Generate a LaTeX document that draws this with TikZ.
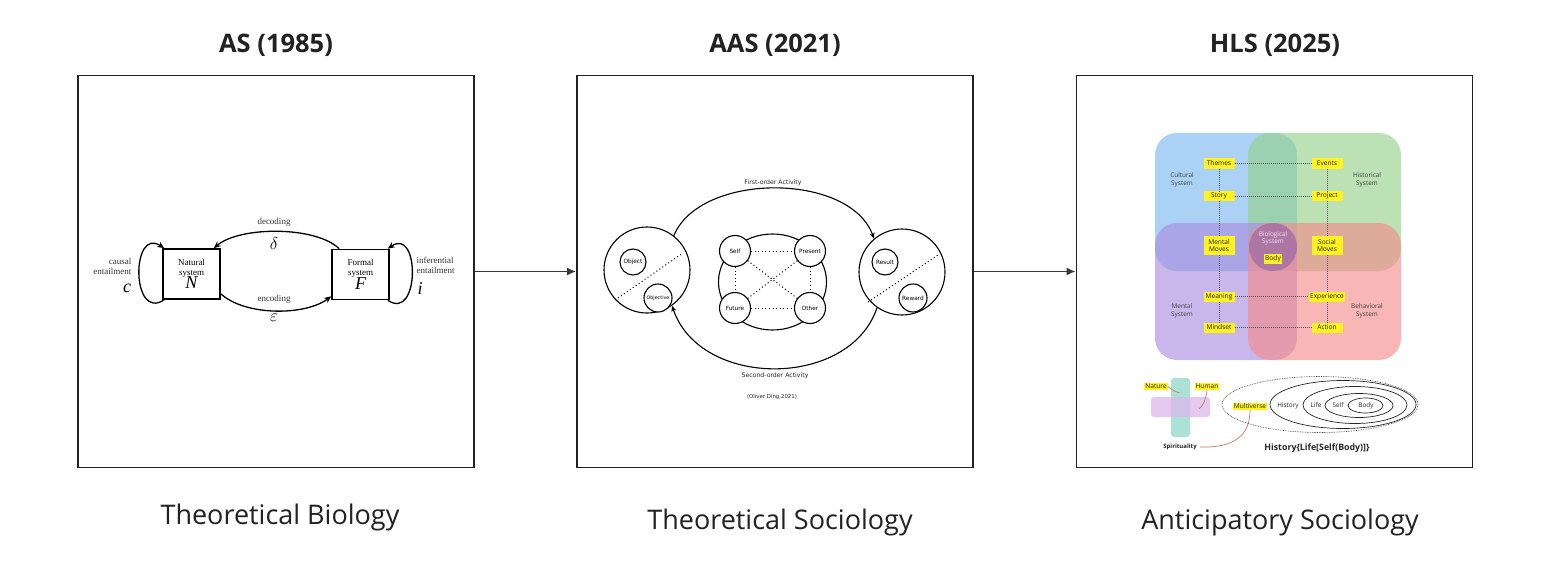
\documentclass[tikz,border=0pt]{standalone}
\usepackage{fontspec}
\setmainfont{Open Sans}
\newfontfamily\serifA{Liberation Serif}
\newfontfamily\sansB{DejaVu Sans}
\newfontfamily\sansC{Open Sans}
\usetikzlibrary{arrows.meta,shapes.geometric,calc}
\definecolor{ink}{HTML}{222222}
\definecolor{hl}{HTML}{FFF21E}
\definecolor{cCult}{HTML}{78B6F0}
\definecolor{cHist}{HTML}{92D088}
\definecolor{cMent}{HTML}{A98BE0}
\definecolor{cBeh}{HTML}{F58A8A}
\definecolor{cBio}{HTML}{8E5FA8}
\definecolor{cTeal}{HTML}{9EDDCF}
\definecolor{cPur}{HTML}{DDB8EC}
\definecolor{cBrown}{HTML}{C9785E}
\tikzset{
  panel/.style={draw=ink, line width=1.8pt, minimum width=396pt, minimum height=392pt, inner sep=0pt},
  title/.style={font=\bfseries\fontsize{25.5}{28}\selectfont, text=ink},
  caption/.style={font=\fontsize{27}{30}\selectfont, text=ink},
  conn/.style={draw=ink!90, line width=1.7pt, -{Latex[length=9pt,width=8pt]}},
  sbox/.style={draw=black, line width=1.6pt, minimum width=57pt, minimum height=50pt, inner sep=0pt, align=center, font=\serifA\fontsize{9}{9.8}\selectfont},
  serlab/.style={font=\serifA\fontsize{9}{10}\selectfont, text=black!80, align=left},
  sarc/.style={draw=black, line width=1.3pt, -{Stealth[length=7pt,width=6pt]}},
  bigc/.style={circle, draw=black, line width=1.1pt, minimum size=86pt, inner sep=0pt},
  smc/.style={circle, draw=black, line width=1.1pt, inner sep=0pt, font=\sansB\fontsize{5.8}{6.5}\selectfont, fill=white},
  dline/.style={draw=black, line width=1pt, dash pattern=on 1pt off 2.6pt},
  tlab/.style={font=\sansB\fontsize{6.2}{7}\selectfont, text=black!85},
  act/.style={draw=black, line width=1.1pt, -{Stealth[length=6pt,width=5pt]}},
  ylab/.style={fill=hl, inner sep=1.3pt, minimum width=31pt, minimum height=10pt, align=center, font=\sansC\fontsize{6.6}{7.4}\selectfont, text=black!85},
  glab/.style={font=\sansC\fontsize{6.4}{7.6}\selectfont, text=black!75, align=center},
  gdot/.style={draw=black!65, line width=0.5pt, dash pattern=on 1pt off 1pt},
  quad/.style={fill opacity=0.62, rounded corners=22pt},
  brline/.style={draw=cBrown, line width=0.7pt},
}
\begin{document}
\begin{tikzpicture}[x=1pt,y=-1pt]
\useasboundingbox (0,0) rectangle (1550,567);
\fill[white] (0,0) rectangle (1550,567);

% panels
\node[panel] (p1) at (276,271.5) {};
\node[panel] (p2) at (775,271.5) {};
\node[panel] (p3) at (1274.5,271.5) {};
\draw[conn] (p1.east) -- (p2.west);
\draw[conn] (p2.east) -- (p3.west);

% titles
\node[title] (t1) at (276,45) {AS (1985)};
\node[title] (t2) at (775,45) {AAS (2021)};
\node[title] (t3) at (1275,45) {HLS (2025)};
% captions
\node[caption] (c1) at (280,517) {Theoretical Biology};
\node[caption] (c2) at (780,522) {Theoretical Sociology};
\node[caption] (c3) at (1280,522) {Anticipatory Sociology};

% ---------- panel 1 ----------
\node[sbox] (N) at (191.5,274) {Natural\\system\\[-1pt]{\fontsize{18}{18}\selectfont\itshape N}};
\node[sbox] (F) at (360.5,274.5) {Formal\\system\\[-1pt]{\fontsize{18}{18}\selectfont\itshape F}};
\draw[sarc] ([xshift=8pt]F.north west) .. controls (316,226) and (240,226) .. ([xshift=-7pt]N.north east);
\draw[sarc] ([yshift=6pt]N.south east) .. controls (245,316) and (305,316) .. ([yshift=4pt]F.south west);
\draw[sarc] ([xshift=2pt]N.south west) .. controls (131,322) and (131,226) .. ([xshift=2pt]N.north west);
\draw[sarc] ([xshift=-2pt]F.south east) .. controls (420,322) and (420,226) .. ([xshift=-2pt]F.north east);
\node[serlab] (dec) at (274,222) {decoding};
\node (delta) at (274,243) {\fontsize{18}{18}\selectfont$\delta$};
\node[serlab] (enc) at (274,299) {encoding};
\node (eps) at (274,318) {\fontsize{18}{18}\selectfont$\varepsilon$};
\node[serlab, anchor=east, align=right] (caus) at (135,266.5) {causal\\entailment};
\node (cc) at (127,288) {\fontsize{18}{18}\selectfont\serifA\itshape c};
\node[serlab, anchor=west] (infer) at (413,265.5) {inferential\\entailment};
\node (ii) at (420,289) {\fontsize{18}{18}\selectfont\serifA\itshape i};

% ---------- panel 2 ----------
\node[bigc] (L) at (647,270) {};
\node[bigc] (R) at (902,272) {};
\node[draw=black, line width=1.1pt, ellipse, minimum width=108pt, minimum height=96pt, inner sep=0pt] (Cen) at (772.5,282) {};
\coordinate (l1) at (615,300); \coordinate (l2) at (683,253);
\coordinate (r1) at (868,302); \coordinate (r2) at (938,255);
\draw[dline] (l1) -- (l2);
\draw[dline] (r1) -- (r2);
\node[smc, minimum size=26pt] (Obj) at (633,262) {Object};
\node[smc, minimum size=28pt, font=\sansB\fontsize{4.8}{5}\selectfont] (Objv) at (658,298) {Objective};
\node[smc, minimum size=26pt] (Res) at (885,262) {Result};
\node[smc, minimum size=28pt] (Rew) at (913,298) {Reward};
\node[smc, minimum size=31pt] (Self) at (735,251) {Self};
\node[smc, minimum size=31pt] (Pres) at (810,251) {Present};
\node[smc, minimum size=31pt] (Fut) at (735,308) {Future};
\node[smc, minimum size=31pt] (Oth) at (810,308) {Other};
\draw[dline] (Self) -- (Pres);
\draw[dline] (Fut) -- (Oth);
\draw[dline] (Self) -- (Fut);
\draw[dline] (Pres) -- (Oth);
\draw[dline] (Self) -- (Oth);
\draw[dline] (Pres) -- (Fut);
\draw[act] (L.52) .. controls (700,172) and (850,172) .. (R.130);
\draw[act] (R.235) .. controls (850,389) and (700,389) .. (L.-55);
\node[tlab] (fo) at (773,183) {First-order Activity};
\node[tlab] (so) at (775,376) {Second-order Activity};
\node[tlab, font=\sansB\fontsize{5.4}{6}\selectfont] (od) at (772,397) {(Oliver Ding,2021)};

% ---------- panel 3 ----------
\fill[cCult, quad] (1155,133) rectangle (1297,271);
\fill[cHist, quad] (1248,133) rectangle (1401,271);
\fill[cMent, quad] (1155,223) rectangle (1297,360);
\fill[cBeh, quad] (1248,223) rectangle (1401,360);
\node[circle, fill=cBio, fill opacity=0.55, minimum size=48pt, inner sep=0pt] (Bio) at (1273,247) {};
\node[glab, text=white!88!violet] (biot) at (1273,238.5) {Biological\\System};
\node[ylab, minimum width=18pt] (Body) at (1273,258.5) {Body};

\node[ylab] (Them) at (1219,163.5) {Themes};
\node[ylab] (Evt) at (1327,163.5) {Events};
\node[ylab] (Story) at (1219,196) {Story};
\node[ylab] (Proj) at (1327,196) {Project};
\node[ylab, minimum height=19pt] (MM) at (1219,245.5) {Mental\\Moves};
\node[ylab, minimum height=19pt] (SM) at (1327,245.5) {Social\\Moves};
\node[ylab] (Mean) at (1219,296.5) {Meaning};
\node[ylab] (Exp) at (1327,296.5) {Experience};
\node[ylab] (Mind) at (1219,327.5) {Mindset};
\node[ylab] (Act) at (1327,327.5) {Action};
\draw[gdot] (Them) -- (Evt);
\draw[gdot] (Story) -- (Proj);
\draw[gdot] (Mean) -- (Exp);
\draw[gdot] (Mind) -- (Act);
\draw[gdot] (Them) -- (Story);
\draw[gdot] (Story) -- (MM);
\draw[gdot] (MM) -- (Mean);
\draw[gdot] (Mean) -- (Mind);
\draw[gdot] (Evt) -- (Proj);
\draw[gdot] (Proj) -- (SM);
\draw[gdot] (SM) -- (Exp);
\draw[gdot] (Exp) -- (Act);
\node[glab] (cult) at (1182,180) {Cultural\\System};
\node[glab] (hist) at (1367,180) {Historical\\System};
\node[glab] (ment) at (1182,311) {Mental\\System};
\node[glab] (beh) at (1367,311) {Behavioral\\System};

% bottom of panel 3
\fill[cTeal, fill opacity=0.85, rounded corners=3pt] (1171,378) rectangle (1190,437);
\fill[cPur, fill opacity=0.75, rounded corners=3pt] (1151,397) rectangle (1210,417);
\coordinate (natEnd) at (1180,393);
\coordinate (humEnd) at (1199,409);
\node[ylab, minimum width=0pt, minimum height=0pt, inner sep=1pt] (Nat) at (1156,386.5) {Nature};
\node[ylab, minimum width=0pt, minimum height=0pt, inner sep=1pt] (Hum) at (1207,386.5) {Human};
\node[glab, font=\sansC\bfseries\fontsize{6}{7}\selectfont, text=black!85] (Spir) at (1180,447) {Spirituality};
\node[ylab, minimum width=0pt, minimum height=0pt, inner sep=1pt] (Mult) at (1250,406.5) {Multiverse};
\draw[brline] (Nat.east) .. controls (1170,388) and (1174,392) .. (natEnd);
\draw[brline] (Hum.south) .. controls (1206,398) and (1204,405) .. (humEnd);
\draw[brline] (Spir.east) .. controls (1235,448) and (1250,435) .. (Mult.south);

\draw[black!75, line width=0.6pt, dash pattern=on 0.8pt off 0.9pt] (1320,404.5) ellipse [x radius=98, y radius=28];
\draw[black!85, line width=0.7pt] (1343,404.5) ellipse [x radius=73, y radius=24];
\draw[black!85, line width=0.7pt] (1355,405) ellipse [x radius=52, y radius=18.5];
\draw[black!85, line width=0.7pt] (1359,405.5) ellipse [x radius=34, y radius=12];
\draw[black!85, line width=0.7pt] (1365.5,405.5) ellipse [x radius=17.5, y radius=7.5];
\node[glab, text=black!85] (eH) at (1288,405.5) {History};
\node[glab, text=black!85] (eL) at (1316,405.5) {Life};
\node[glab, text=black!85] (eS) at (1338,405.5) {Self};
\node[glab, text=black!85] (eB) at (1366,405.5) {Body};
\node[font=\sansC\bfseries\fontsize{8.8}{10}\selectfont, text=black!85] (form) at (1317,448.5) {History\{Life[Self(Body)]\}};
\end{tikzpicture}
\end{document}
